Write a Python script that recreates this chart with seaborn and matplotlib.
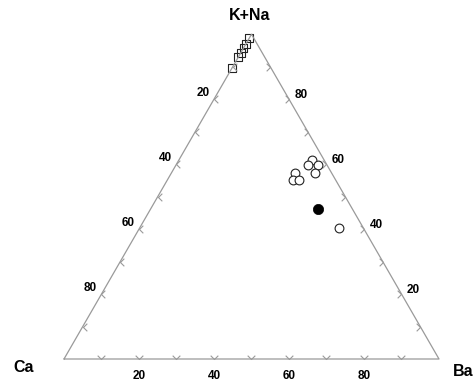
import numpy as np
import pandas as pd
import matplotlib
matplotlib.use("Agg")
import matplotlib.pyplot as plt
import seaborn as sns
from matplotlib.path import Path

# ---- data (percent: Ca, Ba, K+Na) ----
sq_ca = [1.2, 3.1, 4.3, 5.8, 7.1, 10.5]
sq_ba = [0.0, 0.0, 0.0, 0.0, 0.0, 0.0]
sq_kna = [98.8, 96.9, 95.7, 94.2, 92.9, 89.5]

oc_ca = [3.3, 5.1, 2.4, 4.5, 9.8, 11.4, 9.8, 6.5]
oc_ba = [35.5, 35.2, 37.9, 38.3, 33.0, 33.5, 35.1, 53.2]
oc_kna = [61.2, 59.7, 59.7, 57.2, 57.2, 55.1, 55.1, 40.3]

fc_ca = [9.2]
fc_ba = [44.6]
fc_kna = [46.2]

tick_vals = [10, 20, 30, 40, 50, 60, 70, 80, 90]
label_vals = [20, 40, 60, 80]
vertex_labels = ["Ca", "Ba", "K+Na"]

H = np.sqrt(3) / 2


def tern(ca, ba, kna):
    ca, ba, kna = (np.asarray(v, float) for v in (ca, ba, kna))
    tot = ca + ba + kna
    b = ba / tot
    k = kna / tot
    return b + k / 2, k * H


sns.set_style("white")
plt.rcParams["font.family"] = ["Liberation Sans", "DejaVu Sans"]
plt.rcParams["text.color"] = "black"

fig = plt.figure(figsize=(4.77, 3.81), dpi=100)
ax = fig.add_axes([0, 0, 1, 1])
ax.set_xlim(-64 / 375, (477 - 64) / 375)
ax.set_ylim((359 - 381) / 375, 359 / 375)
ax.axis("off")

edge_col = "#9a9a9a"
# triangle
tx, ty = tern([100, 0, 0, 100], [0, 100, 0, 0], [0, 0, 100, 0])
ax.plot(tx, ty, color=edge_col, lw=0.9, zorder=3)

# chevron tick markers
chev_down = Path([(-1, 1), (0, 0), (1, 1)], [Path.MOVETO, Path.LINETO, Path.LINETO])
chev_left = Path([(1, 1), (0, 0), (1, -1)], [Path.MOVETO, Path.LINETO, Path.LINETO])
chev_right = Path([(-1, 1), (0, 0), (-1, -1)], [Path.MOVETO, Path.LINETO, Path.LINETO])
tv = np.array(tick_vals, float)
bx, by = tern(100 - tv, tv, np.zeros_like(tv))
lx, ly = tern(tv, np.zeros_like(tv), 100 - tv)
rx, ry = tern(np.zeros_like(tv), 100 - tv, tv)
for xs, ys, m in [(bx, by, chev_down), (lx, ly, chev_left), (rx, ry, chev_right)]:
    ax.plot(xs, ys, ls="none", marker=m, ms=5.5, mfc="none", mec=edge_col,
            mew=0.8, zorder=3)

# tick labels
lv = np.array(label_vals, float)
fs_tick = 8.5
bx, by = tern(100 - lv, lv, np.zeros_like(lv))
for x, y, v in zip(bx, by, label_vals):
    ax.text(x, y - 0.045, str(v), ha="center", va="center", fontsize=fs_tick,
            fontweight="bold", color="black")
lx, ly = tern(lv, np.zeros_like(lv), 100 - lv)
for x, y, v in zip(lx, ly, label_vals):
    ax.text(x - 0.03, y + 0.016, str(v), ha="center", va="center",
            fontsize=fs_tick, fontweight="bold", color="black")
rx, ry = tern(np.zeros_like(lv), 100 - lv, lv)
for x, y, v in zip(rx, ry, label_vals):
    ax.text(x + 0.032, y + 0.011, str(v), ha="center", va="center",
            fontsize=fs_tick, fontweight="bold", color="black")

# vertex labels
fs_v = 11.5
ax.text(-0.107, -0.024, vertex_labels[0], ha="center", va="center",
        fontsize=fs_v, fontweight="bold", color="black")
ax.text(1.064, -0.032, vertex_labels[1], ha="center", va="center",
        fontsize=fs_v, fontweight="bold", color="black")
ax.text(0.496, 0.917, vertex_labels[2], ha="center", va="center",
        fontsize=fs_v, fontweight="bold", color="black")

# data points
sx, sy = tern(sq_ca, sq_ba, sq_kna)
ox, oy = tern(oc_ca, oc_ba, oc_kna)
fx, fy = tern(fc_ca, fc_ba, fc_kna)
df_sq = pd.DataFrame({"x": sx, "y": sy})
df_oc = pd.DataFrame({"x": ox, "y": oy})
df_fc = pd.DataFrame({"x": fx, "y": fy})

sns.scatterplot(data=df_sq, x="x", y="y", ax=ax, marker="s", s=32,
                facecolor="none", edgecolor="#222222", linewidth=0.8, zorder=2)
sns.scatterplot(data=df_oc, x="x", y="y", ax=ax, marker="o", s=40,
                facecolor="white", edgecolor="#222222", linewidth=0.8, zorder=4)
sns.scatterplot(data=df_fc, x="x", y="y", ax=ax, marker="o", s=55,
                color="black", edgecolor="black", linewidth=0.5, zorder=4)

ax.set_xlabel("")
ax.set_ylabel("")
fig.savefig("out.png", dpi=100)
